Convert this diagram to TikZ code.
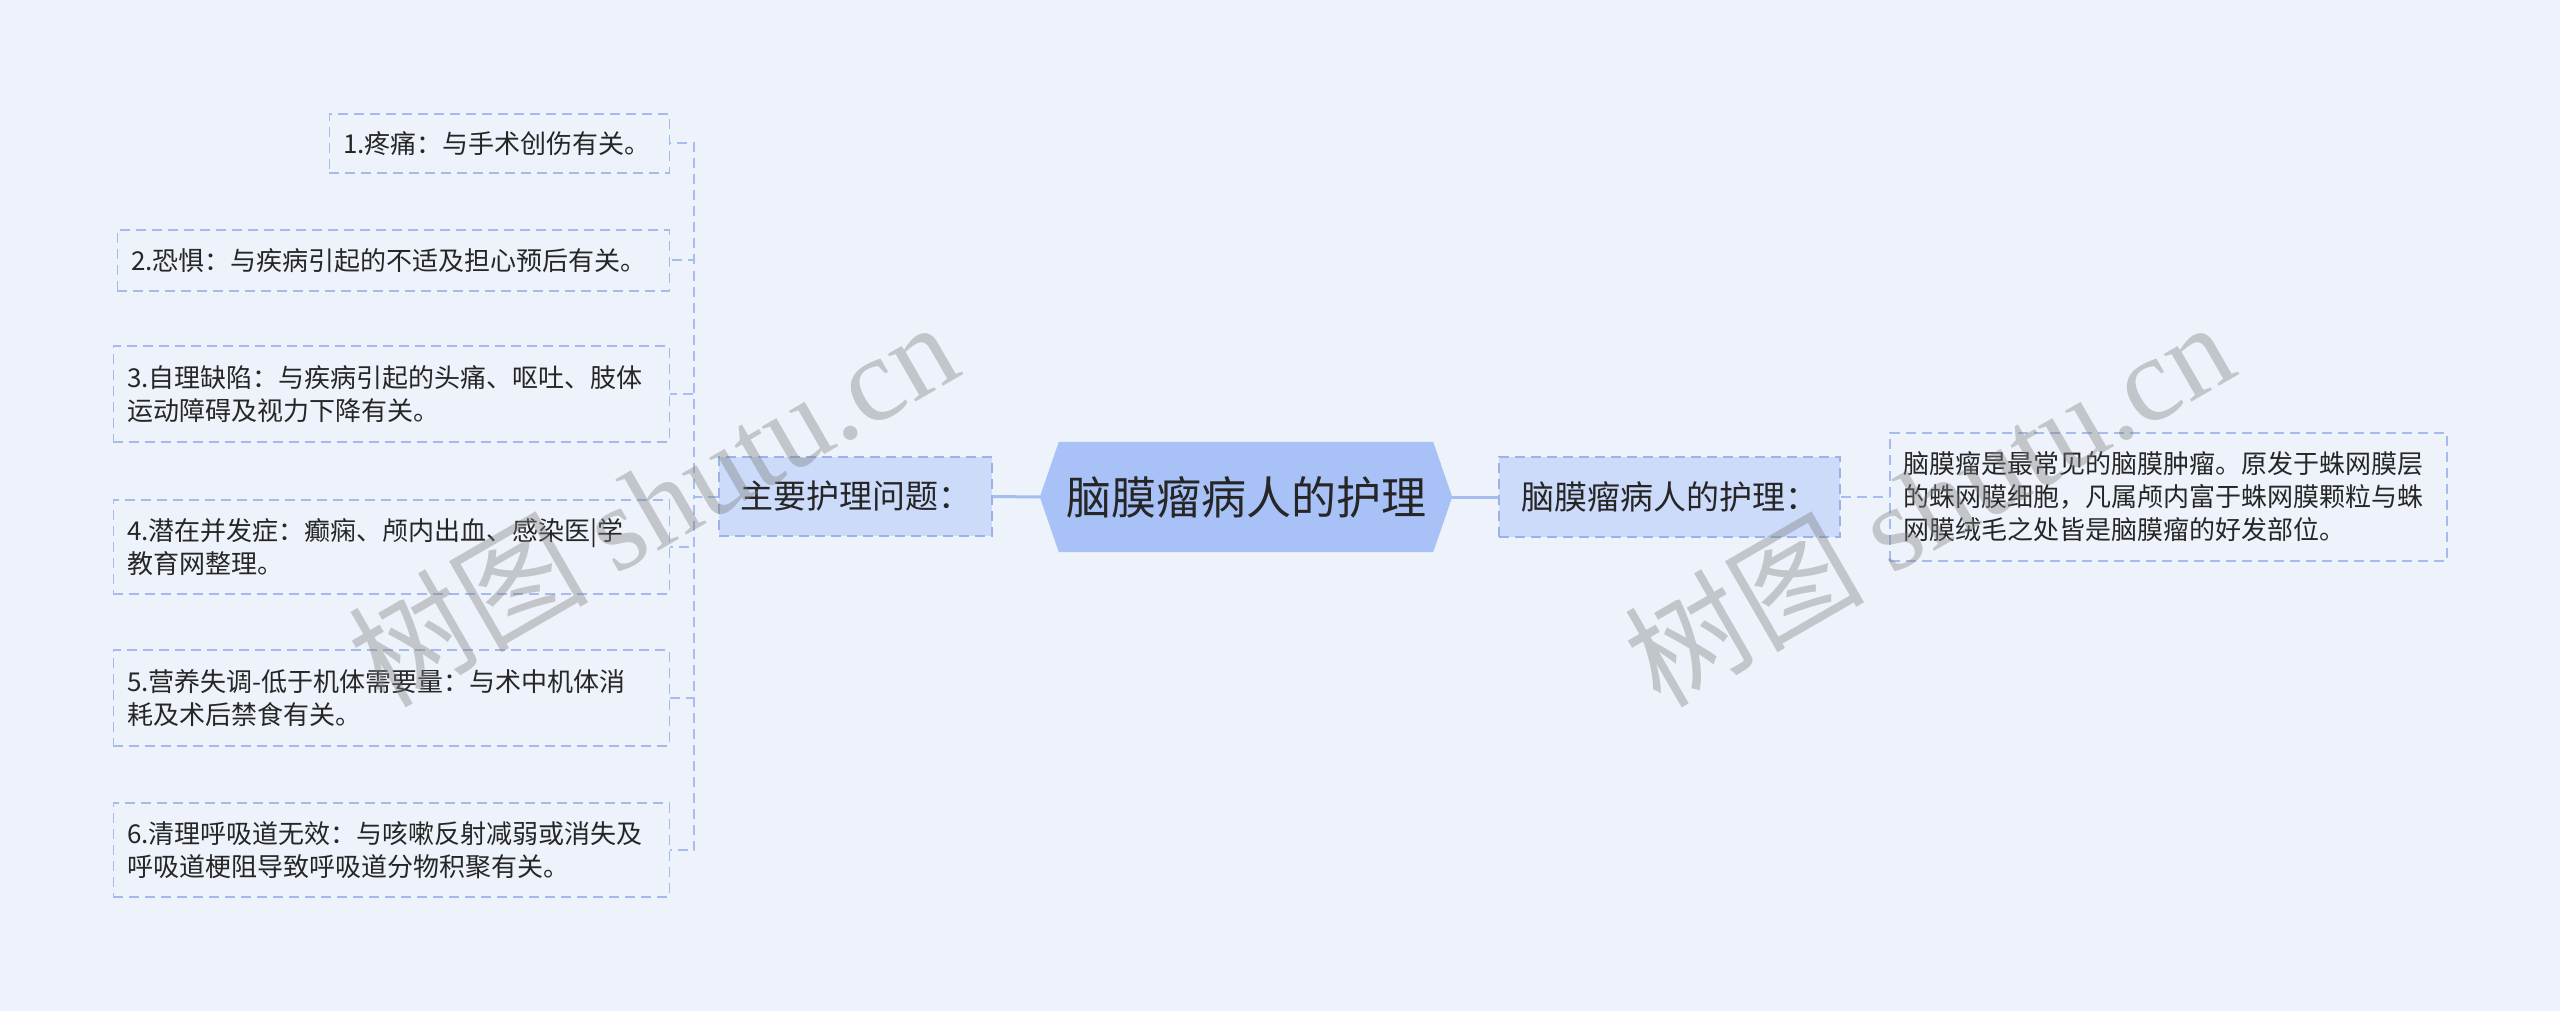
\documentclass[tikz,border=0pt]{standalone}
\usepackage{fontspec}
\setmainfont{Noto Sans CJK SC}
\newfontfamily\wmserif{Liberation Serif}
\newfontfamily\wmcjk{Noto Sans CJK SC}
\usetikzlibrary{backgrounds}
\definecolor{bgc}{HTML}{EEF3FB}
\definecolor{mainfill}{HTML}{A8C1F7}
\definecolor{subfill}{HTML}{CCDBFA}
\definecolor{subborder}{HTML}{9BB3E8}
\definecolor{leafborder}{HTML}{A6BBEA}
\definecolor{linec}{HTML}{A6BDF0}
\definecolor{txt}{HTML}{262626}
\tikzset{
  mainnode/.style={minimum width=412pt, minimum height=110pt, inner sep=0pt,
    font=\fontsize{45}{54}\selectfont, text=txt},
  subnode/.style={fill=subfill, draw=subborder, dash pattern=on 10pt off 6pt,
    line width=1.5pt, inner sep=0pt, font=\fontsize{33}{40}\selectfont, text=txt},
  leafnode/.style={draw=leafborder, dash pattern=on 10pt off 6pt, line width=1.5pt,
    inner xsep=14pt, inner ysep=0pt, align=left, font=\fontsize{26}{33}\selectfont, text=txt},
  mainline/.style={line width=3pt, draw=linec},
  treeline/.style={line width=2pt, draw=linec, dash pattern=on 10pt off 6pt},
  wm/.style={text=gray, text opacity=0.4, inner sep=0pt}
}
\begin{document}
\begin{tikzpicture}[x=1pt,y=-1pt]
\useasboundingbox (0,0) rectangle (2560,1011);
\begin{scope}[on background layer]
  \fill[bgc] (0,0) rectangle (2560,1011);
\end{scope}

% central node
\node[mainnode] (main) at (1246,497) {脑膜瘤病人的护理};
\begin{scope}[on background layer]
  \fill[mainfill] (main.west) -- ([xshift=19pt]main.north west) -- ([xshift=-19pt]main.north east)
    -- (main.east) -- ([xshift=-19pt]main.south east) -- ([xshift=19pt]main.south west) -- cycle;
\end{scope}

% sub nodes
\node[subnode, minimum width=273pt, minimum height=79pt] (lsub) at (855.5,496.5) {主要护理问题：};
\node[subnode, minimum width=341pt, minimum height=80pt] (rsub) at (1669.5,497) {脑膜瘤病人的护理：};

% left leaves
\node[leafnode, anchor=east, text width=312pt, minimum height=59pt] (l1) at (670,143.5) {1.疼痛：与手术创伤有关。};
\node[leafnode, anchor=east, text width=524pt, minimum height=61pt] (l2) at (670,260.5) {2.恐惧：与疾病引起的不适及担心预后有关。};
\node[leafnode, anchor=east, text width=528pt, minimum height=96pt] (l3) at (670,394) {3.自理缺陷：与疾病引起的头痛、呕吐、肢体\\运动障碍及视力下降有关。};
\node[leafnode, anchor=east, text width=528pt, minimum height=94pt] (l4) at (670,547) {4.潜在并发症：癫痫、颅内出血、感染医|学\\教育网整理。};
\node[leafnode, anchor=east, text width=528pt, minimum height=96pt] (l5) at (670,698) {5.营养失调-低于机体需要量：与术中机体消\\耗及术后禁食有关。};
\node[leafnode, anchor=east, text width=528pt, minimum height=94pt] (l6) at (670,850) {6.清理呼吸道无效：与咳嗽反射减弱或消失及\\呼吸道梗阻导致呼吸道分物积聚有关。};

% right leaf
\node[leafnode, anchor=west, text width=529pt, minimum height=128pt] (r1) at (1889,497) {脑膜瘤是最常见的脑膜肿瘤。原发于蛛网膜层\\的蛛网膜细胞，凡属颅内富于蛛网膜颗粒与蛛\\网膜绒毛之处皆是脑膜瘤的好发部位。};

% connectors
\draw[mainline] (lsub.east) -- (main.west);
\draw[mainline] (main.east) -- (rsub.west);
\draw[treeline] (rsub.east) -- (r1.west);
\foreach \i in {1,...,6} {
  \draw[treeline] (lsub.west) -- ++(-24,0) |- (l\i.east);
}

% watermarks
\node[wm, rotate=30] (wm1) at (652,502) {\fontsize{120}{120}\selectfont{\wmcjk 树图} {\wmserif shutu.cn}};
\node[wm, rotate=30] (wm2) at (1928,502) {\fontsize{120}{120}\selectfont{\wmcjk 树图} {\wmserif shutu.cn}};
\end{tikzpicture}
\end{document}
